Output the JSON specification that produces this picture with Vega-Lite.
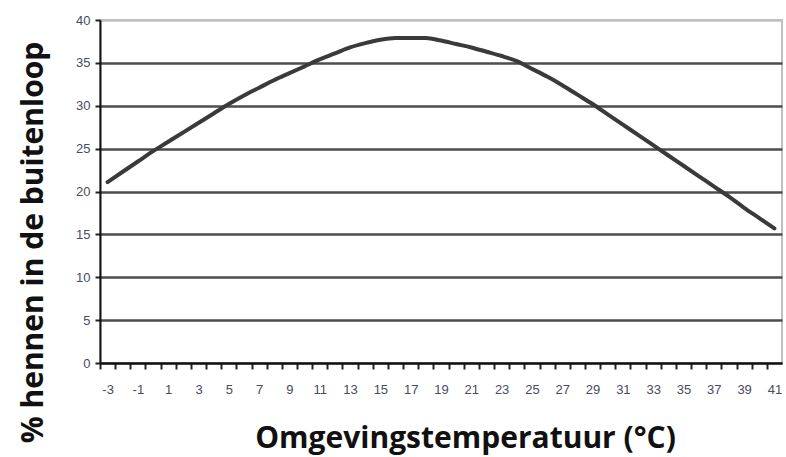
{
  "$schema": "https://vega.github.io/schema/vega-lite/v6.json",
  "width": 682,
  "height": 343,
  "autosize": "none",
  "padding": {"left": 100, "top": 20, "right": 4, "bottom": 94},
  "background": "white",
  "config": {
    "view": {"stroke": "#c0c0c0", "strokeWidth": 2},
    "axis": {"labelFont": "Liberation Sans", "titleFont": "Open Sans"}
  },
  "data": {
    "values": [
      {"temp": -3, "pct": 21.1}, {"temp": -2, "pct": 22.3}, {"temp": -1, "pct": 23.5},
      {"temp": 0, "pct": 24.7}, {"temp": 1, "pct": 25.8}, {"temp": 2, "pct": 26.9},
      {"temp": 3, "pct": 28.0}, {"temp": 4, "pct": 29.1}, {"temp": 5, "pct": 30.2},
      {"temp": 6, "pct": 31.2}, {"temp": 7, "pct": 32.1}, {"temp": 8, "pct": 33.0},
      {"temp": 9, "pct": 33.8}, {"temp": 10, "pct": 34.6}, {"temp": 11, "pct": 35.4},
      {"temp": 12, "pct": 36.1}, {"temp": 13, "pct": 36.8}, {"temp": 14, "pct": 37.3},
      {"temp": 15, "pct": 37.7}, {"temp": 16, "pct": 37.9}, {"temp": 17, "pct": 37.9},
      {"temp": 18, "pct": 37.9}, {"temp": 19, "pct": 37.6}, {"temp": 20, "pct": 37.2},
      {"temp": 21, "pct": 36.8}, {"temp": 22, "pct": 36.3}, {"temp": 23, "pct": 35.8},
      {"temp": 24, "pct": 35.2}, {"temp": 25, "pct": 34.3}, {"temp": 26, "pct": 33.4},
      {"temp": 27, "pct": 32.4}, {"temp": 28, "pct": 31.3}, {"temp": 29, "pct": 30.2},
      {"temp": 30, "pct": 29.0}, {"temp": 31, "pct": 27.8}, {"temp": 32, "pct": 26.6},
      {"temp": 33, "pct": 25.4}, {"temp": 34, "pct": 24.2}, {"temp": 35, "pct": 23.0},
      {"temp": 36, "pct": 21.8}, {"temp": 37, "pct": 20.6}, {"temp": 38, "pct": 19.4},
      {"temp": 39, "pct": 18.1}, {"temp": 40, "pct": 16.9}, {"temp": 41, "pct": 15.7}
    ]
  },
  "mark": {"type": "line", "color": "#3a3a3a", "strokeWidth": 4, "interpolate": "monotone", "strokeCap": "round"},
  "encoding": {
    "x": {
      "field": "temp",
      "type": "quantitative",
      "scale": {"domain": [-3.5, 41.5], "nice": false, "zero": false},
      "axis": {
        "values": [-3,-2,-1,0,1,2,3,4,5,6,7,8,9,10,11,12,13,14,15,16,17,18,19,20,21,22,23,24,25,26,27,28,29,30,31,32,33,34,35,36,37,38,39,40,41],
        "labelExpr": "datum.value % 2 != 0 ? '' + datum.value : ''",
        "labelOverlap": false,
        "grid": false,
        "tickOffset": -7.58,
        "labelOffset": 7.58,
        "tickSize": 6,
        "tickWidth": 2,
        "tickColor": "#222",
        "domainColor": "#111",
        "domainWidth": 2,
        "labelFontSize": 13,
        "labelColor": "#4a4a5e",
        "labelPadding": 14,
        "labelAngle": 0,
        "labelFlush": false,
        "title": "Omgevingstemperatuur (°C)",
        "titleFontSize": 30,
        "titleFontWeight": "bold",
        "titleColor": "#111",
        "titleX": 365,
        "titleY": 84,
        "titleBaseline": "alphabetic"
      }
    },
    "y": {
      "field": "pct",
      "type": "quantitative",
      "scale": {"domain": [0, 40], "nice": false},
      "axis": {
        "values": [0,5,10,15,20,25,30,35,40],
        "grid": true,
        "gridColor": {"condition": {"test": "datum.value == 40", "value": "#c0c0c0"}, "value": "#4d4d4d"},
        "gridWidth": 2.5,
        "tickSize": 5,
        "tickWidth": 2,
        "tickColor": "#222",
        "domainColor": "#111",
        "domainWidth": 2,
        "labelFontSize": 13,
        "labelColor": "#4a4a5e",
        "labelPadding": 5,
        "title": "% hennen in de buitenloop",
        "titleFontSize": 30,
        "titleFontWeight": "bold",
        "titleColor": "#111",
        "titleAngle": -90,
        "titleX": -58,
        "titleY": 222,
        "titleBaseline": "alphabetic"
      }
    }
  }
}
